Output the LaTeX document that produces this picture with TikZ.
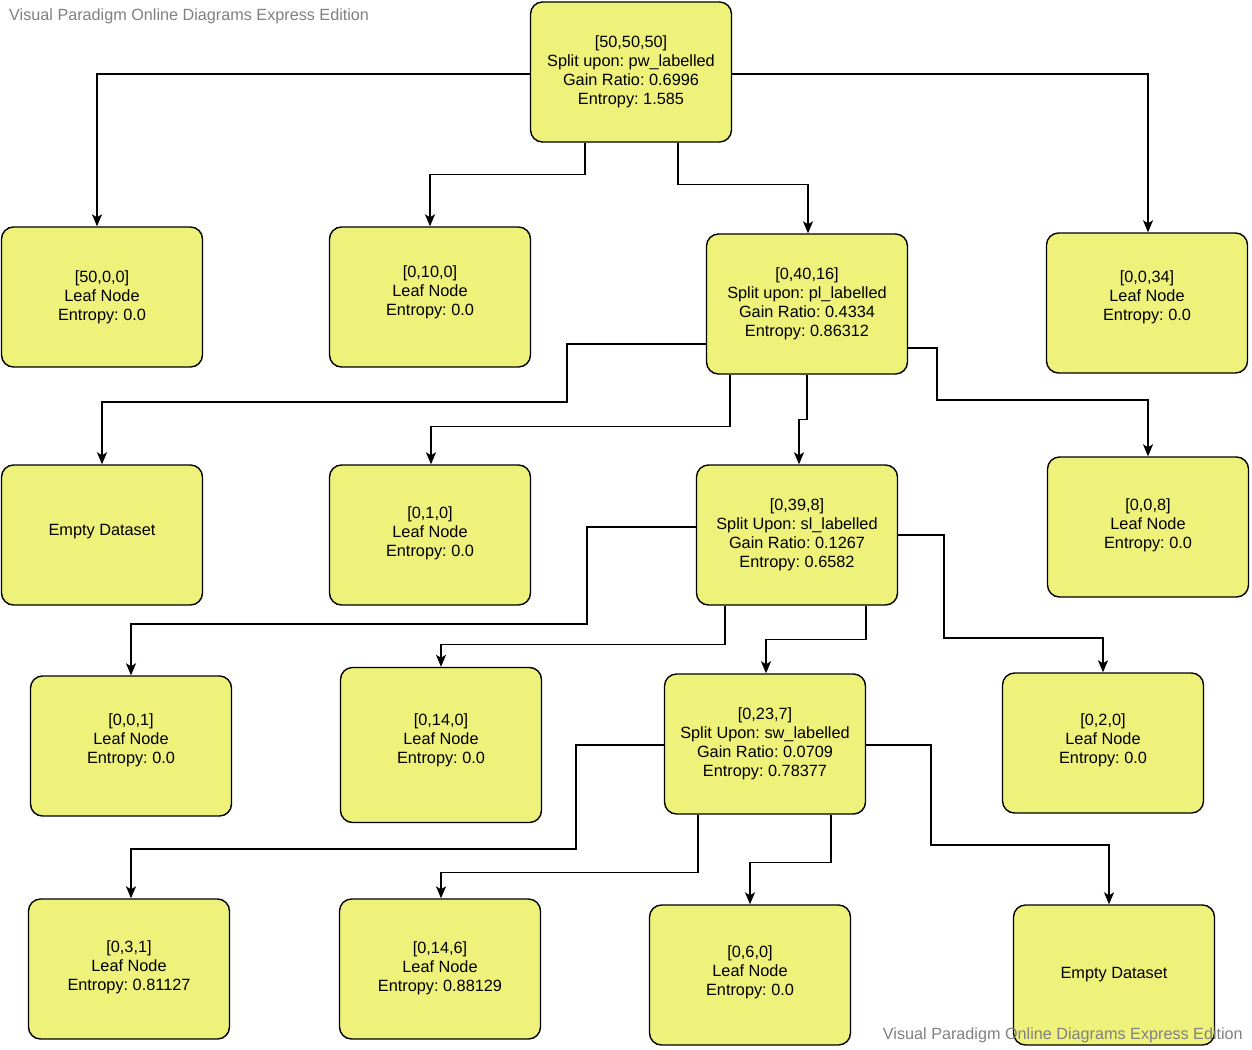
\documentclass[tikz,border=0pt]{standalone}
\usepackage{fontspec}
\setmainfont{Liberation Sans}
\frenchspacing
\usepackage{tikz}
\usetikzlibrary{arrows.meta}
\definecolor{vpyellow}{RGB}{238, 242, 122}
\definecolor{vpgray}{RGB}{128, 128, 128}

\begin{document}
\begin{tikzpicture}[x=1pt, y=-1pt,
		tnode/.style={rectangle, draw=black, line width=1.4pt, fill=vpyellow, minimum width=201pt, minimum height=140pt, rounded corners=12pt, align=center, font=\fontsize{16.3}{19}\selectfont, inner sep=0pt},
		lift/.style={text depth=#1},
		link/.style={-{Stealth[length=12pt, width=10pt, inset=3pt]}, line width=1.5pt},
		wmark/.style={text=vpgray, font=\fontsize{16.2}{19}\selectfont, inner sep=0pt}]
				\useasboundingbox (0,0) rectangle (1252,1049);
				% level 0
				\node[tnode] (root) at (631,72) {[50,50,50]\\Split upon: pw\_labelled\\Gain Ratio: 0.6996\\Entropy: 1.585};
				% level 1
				\node[tnode] (n1) at (102,297) {[50,0,0]\\Leaf Node\\Entropy: 0.0};
				\node[tnode, lift=13.5pt] (n2) at (430,297) {[0,10,0]\\Leaf Node\\Entropy: 0.0};
				\node[tnode] (n3) at (807,304) {[0,40,16]\\Split upon: pl\_labelled\\Gain Ratio: 0.4334\\Entropy: 0.86312};
				\node[tnode, lift=15.5pt] (n4) at (1147,303) {[0,0,34]\\Leaf Node\\Entropy: 0.0};
				% level 2
				\node[tnode, lift=9.5pt] (n5) at (102,535) {Empty Dataset};
				\node[tnode, lift=7.5pt] (n6) at (430,535) {[0,1,0]\\Leaf Node\\Entropy: 0.0};
				\node[tnode] (n7) at (797,535) {[0,39,8]\\Split Upon: sl\_labelled\\Gain Ratio: 0.1267\\Entropy: 0.6582};
				\node[tnode, lift=7.5pt] (n8) at (1148,527) {[0,0,8]\\Leaf Node\\Entropy: 0.0};
				% level 3
				\node[tnode, lift=15.5pt] (n9) at (131,746) {[0,0,1]\\Leaf Node\\Entropy: 0.0};
				\node[tnode, lift=13.5pt, minimum height=155pt] (n10) at (441,745) {[0,14,0]\\Leaf Node\\Entropy: 0.0};
				\node[tnode] (n11) at (765,744) {[0,23,7]\\Split Upon: sw\_labelled\\Gain Ratio: 0.0709\\Entropy: 0.78377};
				\node[tnode, lift=9.5pt] (n12) at (1103,743) {[0,2,0]\\Leaf Node\\Entropy: 0.0};
				% level 4
				\node[tnode, lift=7.5pt] (n13) at (129,969) {[0,3,1]\\Leaf Node\\Entropy: 0.81127};
				\node[tnode, lift=5.5pt] (n14) at (440,969) {[0,14,6]\\Leaf Node\\Entropy: 0.88129};
				\node[tnode, lift=9.5pt] (n15) at (750,975) {[0,6,0]\\Leaf Node\\Entropy: 0.0};
				\node[tnode] (n16) at (1114,975) {Empty Dataset};
				
				\draw[link] ([yshift=-2pt]root.west) -| ([xshift=-5pt]n1.north);
				\draw[link] ([xshift=-46pt]root.south) -- ++(0,32) -| (n2.north);
				\draw[link] ([xshift=47pt]root.south) -- ++(0,42) -| ([xshift=1pt]n3.north);
				\draw[link] ([yshift=-2pt]root.east) -| ([xshift=1pt]n4.north);
				
				\draw[link] ([yshift=-40pt]n3.west) -| ++(-139,58) -| (n5.north);
				\draw[link] ([xshift=-77pt]n3.south) -- ++(0,52) -| ([xshift=1pt]n6.north);
				\draw[link] (n3.south) -- ++(0,45) -| ([xshift=2pt]n7.north);
				\draw[link] ([yshift=-44pt]n3.east) -| ++(29,52) -| (n8.north);
				
				\draw[link] ([yshift=8pt]n7.west) -| ++(-109,97) -| (n9.north);
				\draw[link] ([xshift=-72pt]n7.south) -- ++(0,39) -| (n10.north);
				\draw[link] ([xshift=69pt]n7.south) -- ++(0,34) -| ([xshift=1pt]n11.north);
				\draw[link] (n7.east) -| ++(46,103) -| (n12.north);
				
				\draw[link] ([yshift=-1pt]n11.west) -| ++(-88,104) -| ([xshift=2pt]n13.north);
				\draw[link] ([xshift=-67pt]n11.south) -- ++(0,58) -| ([xshift=1pt]n14.north);
				\draw[link] ([xshift=66pt]n11.south) -- ++(0,48) -| (n15.north);
				\draw[link] ([yshift=-1pt]n11.east) -| ++(65,100) -| ([xshift=-5pt]n16.north);
				
				\node[wmark, anchor=west] (wm1) at (9,16) {Visual Paradigm Online Diagrams Express Edition};
				\node[wmark, anchor=east] (wm2) at (1243,1035) {Visual Paradigm Online Diagrams Express Edition};
			\end{tikzpicture}
\end{document}
